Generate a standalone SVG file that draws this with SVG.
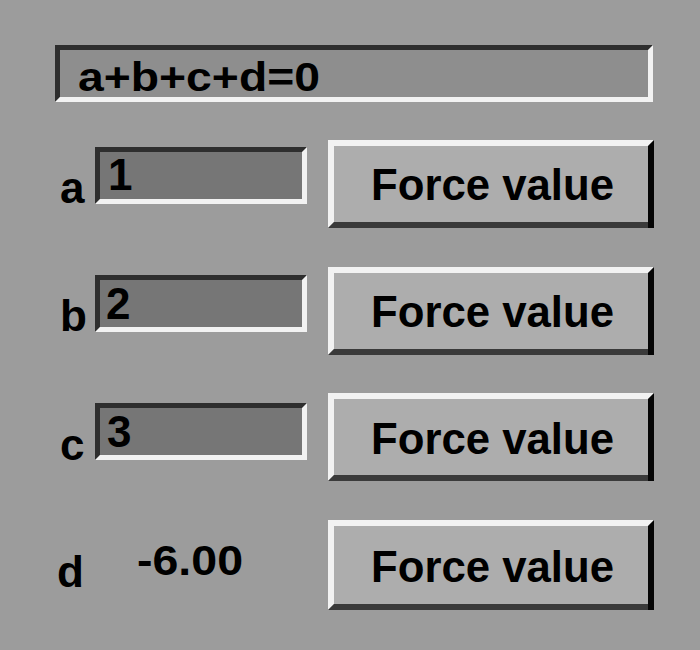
<svg xmlns="http://www.w3.org/2000/svg" width="700" height="650" viewBox="0 0 700 650">
<style>
.bg{fill:#9c9c9c}
.title-fill{fill:#8e8e8e}
.entry-fill{fill:#767676}
.btn-fill{fill:#adadad}
.dark{fill:#2e2e2e}
.light{fill:#f2f2f2}
.shadow{fill:#3a3a3a}
.edge{fill:#050505}
.t{font-family:"Liberation Sans",Arial,sans-serif;font-weight:bold;fill:#000}
</style>
<rect class="bg" x="0" y="0" width="700" height="650"/>
<g id="connectors"/>

<g id="title">
  <rect class="title-fill" x="55" y="45" width="598" height="57"/>
  <polygon class="dark" points="55,45 653,45 648,50 60,50 60,97 55,102"/>
  <polygon class="light" points="653,45 653,102 55,102 60,97 648,97 648,50"/>
  <text class="t" x="78" y="91" font-size="40" textLength="242" lengthAdjust="spacingAndGlyphs">a+b+c+d=0</text>
</g>

<g id="row-a">
  <text class="t" x="60" y="203" font-size="44">a</text>
  <g id="entry-a">
    <rect class="entry-fill" x="95" y="147" width="212" height="57"/>
    <polygon class="dark" points="95,147 307,147 302,152 100,152 100,199 95,204"/>
    <polygon class="light" points="307,147 307,204 95,204 100,199 302,199 302,152"/>
    <text class="t" x="108" y="190" font-size="44">1</text>
  </g>
  <g id="button-a">
    <rect class="btn-fill" x="328" y="140" width="326" height="88"/>
    <polygon class="light" points="328,140 654,140 648,146 334,146 334,222 328,228"/>
    <polygon class="shadow" points="328,228 334,222 648,222 648,228"/>
    <polygon class="edge" points="654,140 654,228 648,228 648,146"/>
    <text class="t" x="371" y="200" font-size="45" textLength="243" lengthAdjust="spacingAndGlyphs">Force value</text>
  </g>
</g>

<g id="row-b">
  <text class="t" x="60" y="331" font-size="44">b</text>
  <g id="entry-b">
    <rect class="entry-fill" x="95" y="275" width="212" height="57"/>
    <polygon class="dark" points="95,275 307,275 302,280 100,280 100,327 95,332"/>
    <polygon class="light" points="307,275 307,332 95,332 100,327 302,327 302,280"/>
    <text class="t" x="106" y="319" font-size="44">2</text>
  </g>
  <g id="button-b">
    <rect class="btn-fill" x="328" y="267" width="326" height="88"/>
    <polygon class="light" points="328,267 654,267 648,273 334,273 334,349 328,355"/>
    <polygon class="shadow" points="328,355 334,349 648,349 648,355"/>
    <polygon class="edge" points="654,267 654,355 648,355 648,273"/>
    <text class="t" x="371" y="327" font-size="45" textLength="243" lengthAdjust="spacingAndGlyphs">Force value</text>
  </g>
</g>

<g id="row-c">
  <text class="t" x="60" y="460" font-size="44">c</text>
  <g id="entry-c">
    <rect class="entry-fill" x="95" y="403" width="212" height="57"/>
    <polygon class="dark" points="95,403 307,403 302,408 100,408 100,455 95,460"/>
    <polygon class="light" points="307,403 307,460 95,460 100,455 302,455 302,408"/>
    <text class="t" x="107" y="447" font-size="44">3</text>
  </g>
  <g id="button-c">
    <rect class="btn-fill" x="328" y="393" width="326" height="88"/>
    <polygon class="light" points="328,393 654,393 648,399 334,399 334,475 328,481"/>
    <polygon class="shadow" points="328,481 334,475 648,475 648,481"/>
    <polygon class="edge" points="654,393 654,481 648,481 648,399"/>
    <text class="t" x="371" y="454" font-size="45" textLength="243" lengthAdjust="spacingAndGlyphs">Force value</text>
  </g>
</g>

<g id="row-d">
  <text class="t" x="57" y="587" font-size="44">d</text>
  <text id="value-d" class="t" x="137" y="575" font-size="42" textLength="106" lengthAdjust="spacingAndGlyphs">-6.00</text>
  <g id="button-d">
    <rect class="btn-fill" x="328" y="520" width="326" height="90"/>
    <polygon class="light" points="328,520 654,520 648,526 334,526 334,604 328,610"/>
    <polygon class="shadow" points="328,610 334,604 648,604 648,610"/>
    <polygon class="edge" points="654,520 654,610 648,610 648,526"/>
    <text class="t" x="371" y="582" font-size="45" textLength="243" lengthAdjust="spacingAndGlyphs">Force value</text>
  </g>
</g>
</svg>
